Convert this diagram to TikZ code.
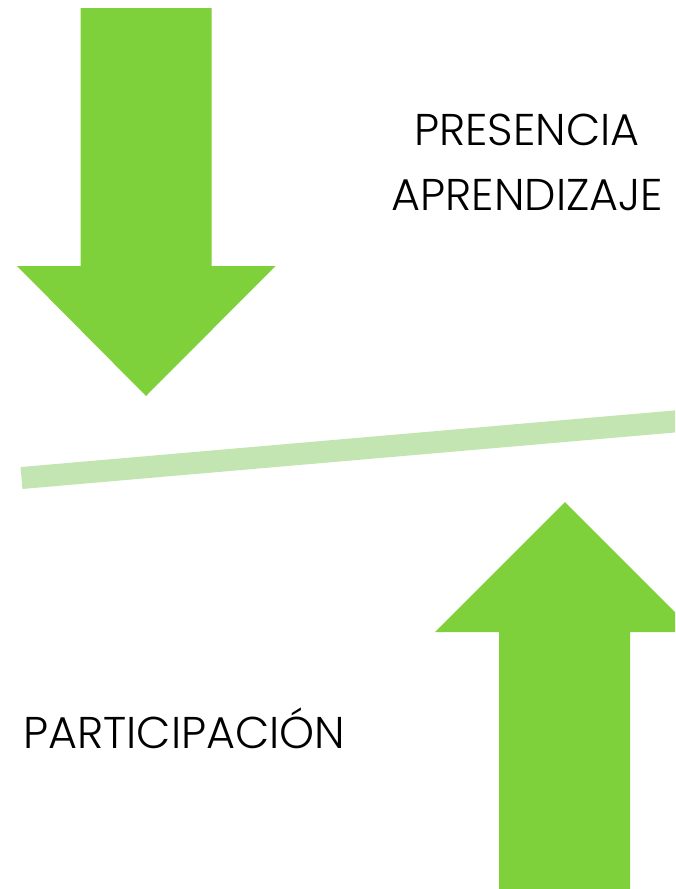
\documentclass[tikz,border=0pt]{standalone}
\usepackage{fontspec}
\setmainfont{Poppins}[UprightFont=* Light]
\usepackage{tikz}
\definecolor{arrowgreen}{RGB}{127,209,59}
\definecolor{bargreen}{RGB}{195,229,177}

\begin{document}
\begin{tikzpicture}[x=1pt, y=-1pt,
    bigarrow/.style={fill=arrowgreen, draw=none},
    wordnode/.style={inner sep=0pt, font=\fontsize{44.5}{52}\selectfont}
]
\useasboundingbox (0,0) rectangle (675,889);
\clip (0,0) rectangle (675,889);
% arrow pointing down
\fill[bigarrow] (80.5,8) -- (211.5,8) -- (211.5,266) -- (275.5,266) -- (146,396)
    -- (17,266) -- (80.5,266) -- cycle;
% arrow pointing up
\fill[bigarrow] (499,889) -- (630,889) -- (630,632) -- (695,632) -- (565,502)
    -- (435,632) -- (499,632) -- cycle;
% balance bar
\coordinate (barleft) at (21.5,478);
\coordinate (barright) at (680,421);
\draw[bargreen, line width=22pt] (barleft) -- (barright);
% words
\node[wordnode, anchor=base](presencia) at (527,145) {PRESENCIA};
\node[wordnode, anchor=base](aprendizaje) at (527.5,210) {APRENDIZAJE};
\node[wordnode, anchor=base west](participacion) at (23,748) {PARTICIPACIÓN};
\end{tikzpicture}
\end{document}
